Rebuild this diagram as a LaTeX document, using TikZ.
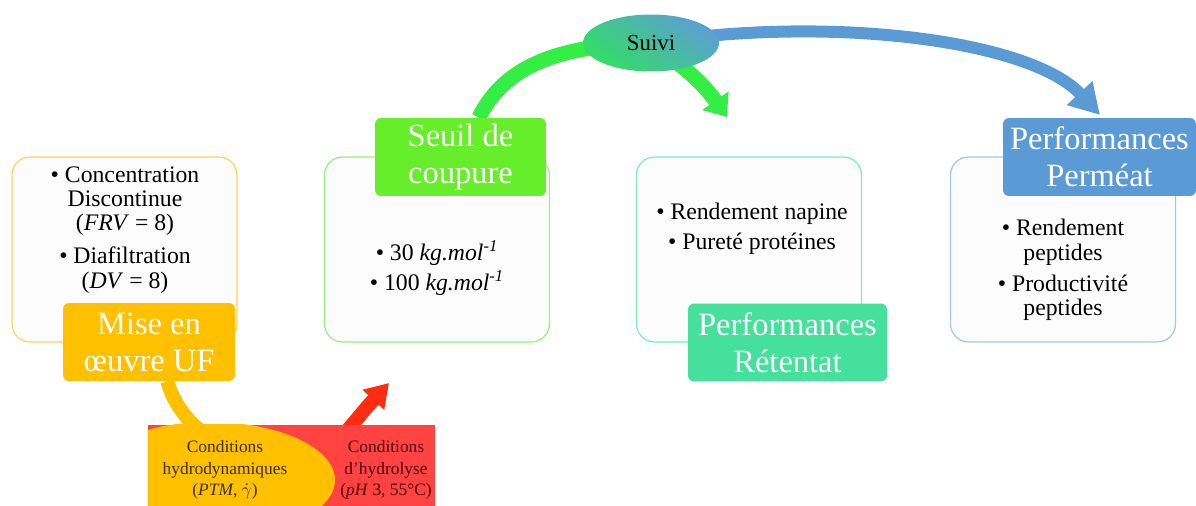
\documentclass[tikz,border=0pt]{standalone}
\usepackage{fontspec}
\setmainfont{Liberation Serif}
\usetikzlibrary{positioning,arrows.meta,shapes.geometric}
\pgfdeclarelayer{background}
\pgfsetlayers{background,main}
\definecolor{gold}{HTML}{FFC000}
\definecolor{goldLine}{HTML}{FFD45A}
\definecolor{lime}{HTML}{66EE2A}
\definecolor{limeLine}{HTML}{9AF07A}
\definecolor{mint}{HTML}{44E09C}
\definecolor{mintLine}{HTML}{80EBC0}
\definecolor{sky}{HTML}{5B9BD5}
\definecolor{skyLine}{HTML}{A4C8E8}
\definecolor{boxFill}{HTML}{FCFCFC}
\definecolor{arrGreen}{HTML}{33EE44}
\definecolor{arrRed}{HTML}{FF2D10}
\definecolor{condRed}{HTML}{FF4343}
\definecolor{suiviGreen}{HTML}{33DD66}
\definecolor{suiviBlue}{HTML}{5BA0D2}
\definecolor{olive}{HTML}{3C2F00}
\definecolor{maroon}{HTML}{500000}

\begin{document}
\begin{tikzpicture}[x=0.02cm,y=-0.02cm,
    box/.style={rounded corners=0.36cm,line width=0.7pt,fill=boxFill,
      minimum width=4.5cm,minimum height=3.7cm},
    ttl/.style={rounded corners=0.12cm,text=white,align=center,inner sep=0pt,
      minimum height=1.56cm,font=\fontsize{18.5}{21}\selectfont},
    txt/.style={align=center,font=\fontsize{13.5}{13.8}\selectfont},
    cnd/.style={align=center,font=\fontsize{9.9}{12.2}\selectfont},
    arr/.style={line cap=butt}]
  \useasboundingbox (0,0) rectangle (1196,506);
  \coordinate (gtip) at (727,117);
  \coordinate (btip) at (1100,115);
  \coordinate (rtip) at (389,383);

  % content boxes
  \node[box,draw=goldLine] (b1) at (124.5,249.5) {};
  \node[box,draw=limeLine] (b2) at (437,249.5) {};
  \node[box,draw=mintLine] (b3) at (749,249.5) {};
  \node[box,draw=skyLine] (b4) at (1063,249.5) {};
  \node[txt] (t1) at (125,230) {\textbullet\ Concentration\\Discontinue\\(\textit{FRV} = 8)\\[5pt]
    \textbullet\ Diafiltration\\(\textit{DV} = 8)};
  \node[txt] (t2) at (437,268) {\textbullet\ 30 \textit{kg.mol\textsuperscript{-1}}\\[2pt]
    \textbullet\ 100 \textit{kg.mol\textsuperscript{-1}}};
  \node[txt] (t3) at (752,229) {\textbullet\ Rendement napine\\[3pt]\textbullet\ Puret\'e prot\'eines};
  \node[txt] (t4) at (1063,270) {\textbullet\ Rendement\\peptides\\[4pt]\textbullet\ Productivit\'e\\peptides};

  % titles
  \node[ttl,fill=gold,minimum width=3.44cm] (mise) at (149,342) {Mise en\\\oe uvre UF};
  \node[ttl,fill=lime,minimum width=3.42cm] (seuil) at (460.5,157) {Seuil de\\coupure};
  \node[ttl,fill=mint,minimum width=3.98cm] (retentat) at (787.5,342.5) {Performances\\R\'etentat};
  \node[ttl,fill=sky,minimum width=3.86cm] (permeat) at (1099.5,157) {Performances\\Perm\'eat};
  \node[ellipse,minimum width=2.72cm,minimum height=1.14cm,inner sep=0pt,
    bottom color=suiviGreen,top color=suiviBlue,shading angle=-35,
    font=\fontsize{13}{15}\selectfont] (suivi) at (651,43) {Suivi};

  % conditions
  \node[rectangle,fill=condRed,minimum width=5.74cm,minimum height=1.62cm,
    inner sep=0pt] (cond) at (291.5,465.5) {};
  \begin{scope}
    \clip (cond.south west) rectangle (cond.north east);
    \fill[gold] (210,480) ellipse [x radius=2.5cm,y radius=1.16cm];
  \end{scope}
  \node[cnd,text=olive] (hydro) at (225,470) {Conditions\\hydrodynamiques\\(\textit{PTM}, $\dot{\gamma}$)};
  \node[cnd,text=maroon] (hydrol) at (386,470) {Conditions\\d'hydrolyse\\(\textit{pH} 3, 55°C)};

  % arrows
  \begin{pgfonlayer}{background}
    \draw[arr,arrGreen,line width=0.3cm,-{Triangle[length=0.4cm,width=0.62cm]}]
      (seuil.65) .. controls (505,65) and (560,45) .. (suivi.center)
      .. controls (665,55) and (695,72) .. (gtip);
    \draw[arr,sky,line width=0.24cm,-{Triangle[length=0.6cm,width=0.66cm]}]
      (suivi.center) .. controls (830,15) and (1030,40) .. (btip);
    \draw[arr,gold,line width=0.28cm]
      (mise.-65) .. controls (178,420) and (215,455) .. (cond.center);
    \draw[arr,arrRed,line width=0.28cm,-{Triangle[length=0.46cm,width=0.56cm]}]
      (cond.center) .. controls (330,460) and (350,425) .. (rtip);
  \end{pgfonlayer}
\end{tikzpicture}
\end{document}
